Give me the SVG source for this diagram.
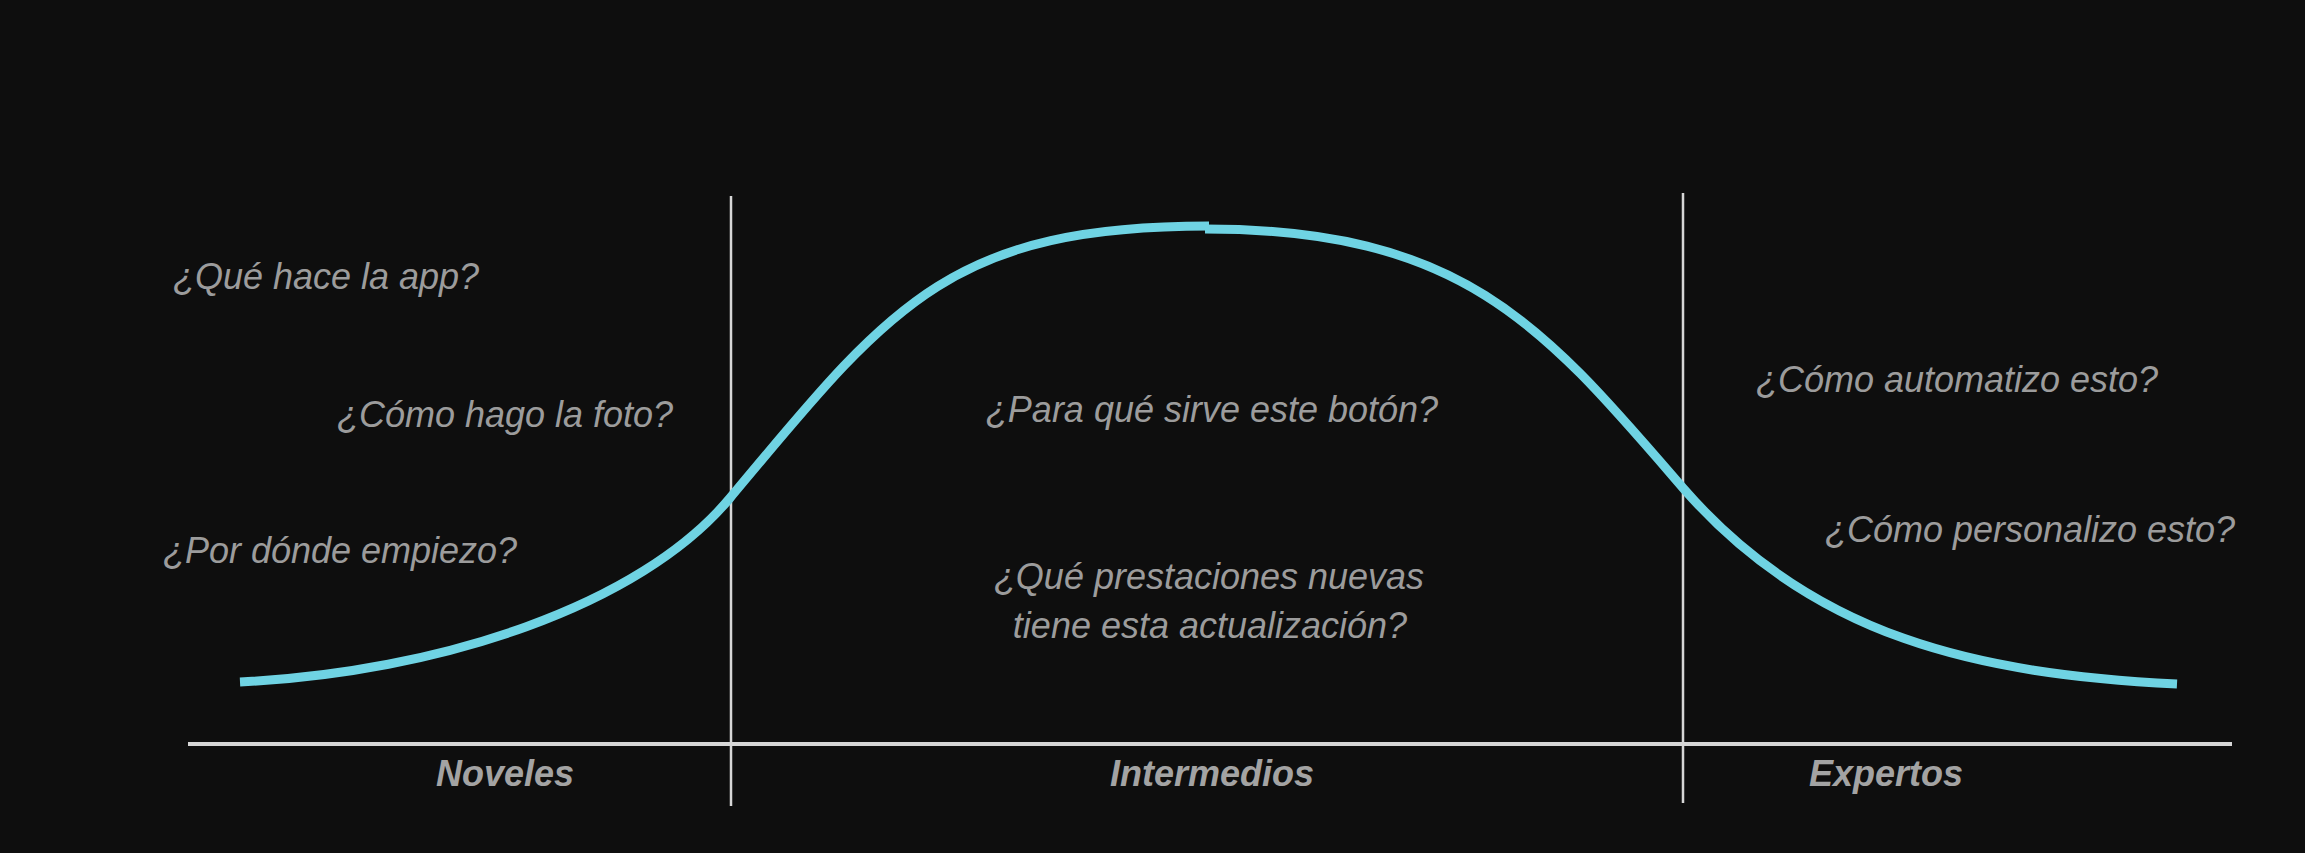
<svg xmlns="http://www.w3.org/2000/svg" width="2305" height="853" viewBox="0 0 2305 853">
<style>
.q{font-family:"Liberation Sans",Arial,sans-serif;font-style:italic;font-size:36px;fill:#9c9c9c;text-anchor:middle}
.lbl{font-family:"Liberation Sans",Arial,sans-serif;font-style:italic;font-weight:bold;font-size:36px;fill:#a3a3a3;text-anchor:middle}
.axis{stroke:#d6d6d6;fill:none}
.curve{stroke:#6fd3e3;stroke-width:9;fill:none;stroke-linecap:butt;stroke-linejoin:round}
</style>
<rect width="2305" height="853" fill="#0e0e0e"/>
<g id="connectors">
<line class="axis" x1="188" y1="744" x2="2232" y2="744" stroke-width="4"/>
<line class="axis" x1="731" y1="196" x2="731" y2="806" stroke-width="2.5"/>
<line class="axis" x1="1683" y1="193" x2="1683" y2="803" stroke-width="2.5"/>
<path class="curve" d="M240,682 C440,672 640,606 730,498 C890,306 949,226 1209,226"/>
<path class="curve" d="M1205,229 C1465,229 1544,327 1683,488 C1813,637.5 1977,674 2177,684"/>
</g>
<g id="noveles">
<text class="q" x="326" y="289">¿Qué hace la app?</text>
<text class="q" x="505" y="427">¿Cómo hago la foto?</text>
<text class="q" x="340" y="563">¿Por dónde empiezo?</text>
<text class="lbl" x="505" y="786">Noveles</text>
</g>
<g id="intermedios">
<text class="q" x="1212" y="422">¿Para qué sirve este botón?</text>
<text class="q" x="1209" y="589">¿Qué prestaciones nuevas</text>
<text class="q" x="1210" y="638">tiene esta actualización?</text>
<text class="lbl" x="1212" y="786">Intermedios</text>
</g>
<g id="expertos">
<text class="q" x="1957" y="392">¿Cómo automatizo esto?</text>
<text class="q" x="2030" y="542">¿Cómo personalizo esto?</text>
<text class="lbl" x="1886" y="786">Expertos</text>
</g>
</svg>
